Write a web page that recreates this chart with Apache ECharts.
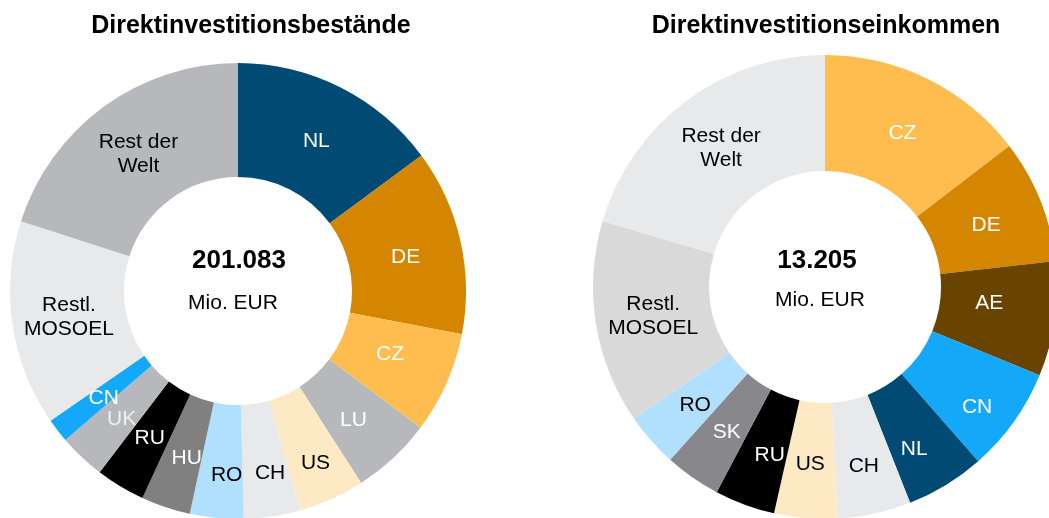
<!DOCTYPE html>
<html>
<head>
<meta charset="utf-8">
<script src="https://cdn.jsdelivr.net/npm/echarts@6/dist/echarts.min.js"></script>
<style>
  html, body { margin: 0; padding: 0; background: #fff; }
  #main { width: 1049px; height: 518px; }
</style>
</head>
<body>
<div id="main"></div>
<script>
// Bestände (Anteile in %)
let stockNames = ["NL", "DE", "CZ", "LU", "US", "CH", "RO", "HU", "RU", "UK", "CN", "Restl.\nMOSOEL", "Rest der\nWelt"];
let stockValues = [14.9, 13.2, 7.2, 5.7, 4.7, 4.0, 3.8, 3.5, 3.5, 3.3, 1.7, 14.6, 20.1];

// Einkommen (Anteile in %)
let incomeNames = ["CZ", "DE", "AE", "CN", "NL", "CH", "US", "RU", "SK", "RO", "Restl.\nMOSOEL", "Rest der\nWelt"];
let incomeValues = [14.6, 8.6, 8.0, 7.3, 5.5, 5.1, 4.4, 4.2, 3.9, 3.75, 14.2, 20.4];

let titles = ["Direktinvestitionsbestände", "Direktinvestitionseinkommen"];
let totals = ["201.083", "13.205"];
let unit = "Mio. EUR";

// --- styling ---
let stockColors = ["#004a73", "#d48600", "#ffbd4f", "#b7b8bb", "#fde9c4", "#e8e9eb", "#b0e0fd", "#808080", "#000000", "#b7b8bb", "#13a8f8", "#e8e9eb", "#b7b8bb"];
let stockLabelColors = ["#fff", "#fff", "#fff", "#fff", "#000", "#000", "#000", "#fff", "#fff", "#f0f0f0", "#fff", "#000", "#000"];
let stockLabelOffsets = [[0, 6], [-2, 5], [-7, -7], [-3, 2], [6, 14], [6, 10], [5, 11], [4, 2], [0, 1], [3, 2], [1, 3], [3, 1], [3, 4]];

let incomeColors = ["#ffbd4f", "#d48600", "#684400", "#13a8f8", "#004a73", "#e8e9eb", "#fde9c4", "#000000", "#88878c", "#b0e0fd", "#d9d9d9", "#e8e9eb"];
let incomeLabelColors = ["#fff", "#fff", "#fff", "#fff", "#fff", "#000", "#000", "#fff", "#fff", "#000", "#000", "#000"];
let incomeLabelOffsets = [[-1, 5], [-3, 4], [-11, -8], [8, 17], [-3, 11], [1, 6], [0, 1], [6, 2], [3, 0], [3, 1], [3, 1], [2, 3]];

let font = "Liberation Sans, Arial, sans-serif";
let labelSize = 21;

// labels ECharts would drop inside narrow slices; drawn as graphic text instead
let stockGraphicLabels = ["RU", "CN"];

function buildData(names, values, colors, labelColors, offsets, skip) {
    return names.map(function (n, i) {
        return {
            name: n,
            value: values[i],
            itemStyle: { color: colors[i] },
            label: { show: skip.indexOf(n) < 0, color: labelColors[i], offset: offsets[i] },
        };
    });
}

function sliceLabel(names, values, idx, center, radius, color, offset) {
    let total = values.reduce(function (a, b) { return a + b; }, 0);
    let before = 0;
    for (let i = 0; i < idx; i++) before += values[i];
    let theta = (before + values[idx] / 2) / total * 2 * Math.PI;
    let r = (radius[0] + radius[1]) / 2;
    return {
        type: "text",
        x: center[0] + r * Math.sin(theta) + offset[0],
        y: center[1] - r * Math.cos(theta) + offset[1],
        z: 100,
        style: { text: names[idx], font: labelSize + "px " + font, fill: color, align: "center", verticalAlign: "middle" },
    };
}

let dom = document.getElementById("main");
let myChart = echarts.init(dom, null, { renderer: "canvas" });

function pie(center, radius, data) {
    return {
        type: "pie",
        center: center,
        radius: radius,
        startAngle: 90,
        clockwise: true,
        avoidLabelOverlap: false,
        silent: true,
        animation: false,
        itemStyle: { borderWidth: 0 },
        label: {
            show: true,
            position: "inside",
            formatter: "{b}",
            fontFamily: font,
            fontSize: labelSize,
            lineHeight: 24,
            textBorderWidth: 0,
        },
        labelLine: { show: false },
        data: data,
    };
}

let leftCenter = [238, 291], leftRadius = [114, 228];
let rightCenter = [825, 287], rightRadius = [116, 232];

let titleStyle = { fontFamily: font, fontSize: 25, fontWeight: "bold", color: "#000" };

let graphics = [
    { type: "text", x: 239, y: 261, style: { text: totals[0], font: "bold 26px " + font, fill: "#000", align: "center", verticalAlign: "middle" } },
    { type: "text", x: 233, y: 303, style: { text: unit, font: "21px " + font, fill: "#000", align: "center", verticalAlign: "middle" } },
    { type: "text", x: 817, y: 261, style: { text: totals[1], font: "bold 26px " + font, fill: "#000", align: "center", verticalAlign: "middle" } },
    { type: "text", x: 820, y: 300, style: { text: unit, font: "21px " + font, fill: "#000", align: "center", verticalAlign: "middle" } },
];
stockGraphicLabels.forEach(function (n) {
    let i = stockNames.indexOf(n);
    graphics.push(sliceLabel(stockNames, stockValues, i, leftCenter, leftRadius, stockLabelColors[i], stockLabelOffsets[i]));
});

let option = {
    backgroundColor: "#fff",
    title: [
        { text: titles[0], left: 246, top: 9, textAlign: "center", textStyle: titleStyle },
        { text: titles[1], left: 821, top: 9, textAlign: "center", textStyle: titleStyle },
    ],
    graphic: graphics,
    series: [
        pie(leftCenter, leftRadius, buildData(stockNames, stockValues, stockColors, stockLabelColors, stockLabelOffsets, stockGraphicLabels)),
        pie(rightCenter, rightRadius, buildData(incomeNames, incomeValues, incomeColors, incomeLabelColors, incomeLabelOffsets, [])),
    ],
};

myChart.setOption(option);
window.addEventListener("resize", myChart.resize);
</script>
</body>
</html>
